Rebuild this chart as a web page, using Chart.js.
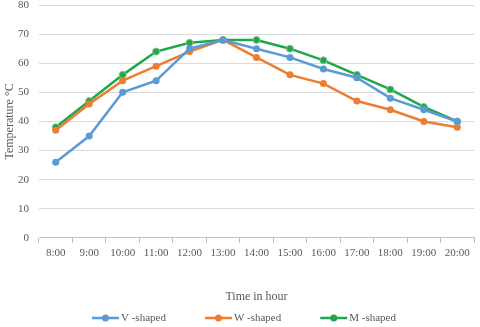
<!DOCTYPE html>
<html><head><meta charset="utf-8">
<script src="https://cdn.jsdelivr.net/npm/chart.js@4/dist/chart.umd.min.js"></script>
<style>html,body{margin:0;padding:0;background:#fff}#wrap{width:480px;height:327px}</style>
</head><body><div id="wrap"><canvas id="c"></canvas></div>
<script>
const categories = ['8:00','9:00','10:00','11:00','12:00','13:00','14:00','15:00','16:00','17:00','18:00','19:00','20:00'];
const vShaped = [26,35,50,54,65,68,65,62,58,55,48,44,40];
const wShaped = [37,46,54,59,64,68,62,56,53,47,44,40,38];
const mShaped = [38,47,56,64,67,68,68,65,61,56,51,45,40];
const seriesNames = ['V -shaped','W -shaped','M -shaped'];
const colors = ['#5B9BD5','#ED7D31','#1FA84A'];
const yTicks = [0,10,20,30,40,50,60,70,80];

const font='"Liberation Serif", "Times New Roman", serif';
const ds=[vShaped,wShaped,mShaped].map((d,i)=>({
  label:seriesNames[i],data:d,borderColor:colors[i],backgroundColor:colors[i],
  borderWidth:2.5,pointRadius:3.5,pointHoverRadius:3.5,
  pointBorderColor:i===2?'#8fbf9a':colors[i],pointBorderWidth:i===2?1:0,tension:0
}));

const bottomLegend={
  id:'bottomLegend',
  afterDraw(chart){
    const ctx=chart.ctx;
    ctx.save();
    ctx.font='11px '+font;
    const lineLen=27, gapText=2, gapItem=39;
    const items=chart.data.datasets.map(d=>({d,w:lineLen+gapText+ctx.measureText(d.label).width}));
    const total=items.reduce((s,it)=>s+it.w,0)+gapItem*(items.length-1);
    let x=chart.width/2+4-total/2;
    const y=318;
    items.forEach(it=>{
      const c=it.d.borderColor;
      ctx.strokeStyle=c;ctx.lineWidth=2.5;ctx.beginPath();ctx.moveTo(x,y);ctx.lineTo(x+lineLen,y);ctx.stroke();
      ctx.fillStyle=c;ctx.beginPath();ctx.arc(x+lineLen/2,y,3.5,0,Math.PI*2);ctx.fill();
      ctx.fillStyle='#595959';ctx.textBaseline='middle';ctx.textAlign='left';
      ctx.fillText(it.d.label,x+lineLen+gapText,y);
      x+=it.w+gapItem;
    });
    ctx.restore();
  }
};

new Chart(document.getElementById('c'),{
  type:'line',
  data:{labels:categories,datasets:ds},
  plugins:[bottomLegend],
  options:{
    responsive:true,maintainAspectRatio:false,animation:false,
    layout:{padding:{top:0,right:6,left:0,bottom:22.5}},
    plugins:{tooltip:{enabled:false},legend:{display:false}},
    scales:{
      x:{offset:true,
        grid:{offset:true,drawOnChartArea:false,drawTicks:true,tickLength:5,color:'#BFBFBF'},
        border:{color:'#BFBFBF'},
        ticks:{color:'#595959',font:{family:font,size:11},padding:4,maxRotation:0,autoSkip:false},
        title:{display:true,text:'Time in hour',color:'#595959',font:{family:font,size:12},padding:{top:26,bottom:0}}},
      y:{min:0,max:80,
        afterBuildTicks(s){s.ticks=yTicks.map(v=>({value:v}));},
        afterFit(s){s.width=39;s.paddingTop=5;s.paddingBottom=6;},
        grid:{color:'#D9D9D9',drawTicks:false},
        border:{display:false},
        ticks:{color:'#595959',font:{family:font,size:11},padding:10},
        title:{display:true,text:'Temperature °C',color:'#595959',font:{family:font,size:12},padding:{top:3,bottom:0}}}
    }
  }
});
</script></body></html>
